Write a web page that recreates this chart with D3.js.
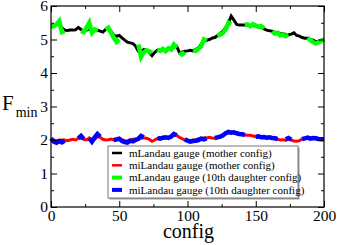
<!DOCTYPE html>
<html>
<head>
<meta charset="utf-8">
<script src="https://cdn.jsdelivr.net/npm/d3@7"></script>
<style>
  body { margin: 0; background: #fff; }
  svg text { font-family: "Liberation Serif", "Times New Roman", "DejaVu Serif", serif; fill: #000; }
</style>
</head>
<body>
<svg id="chart"></svg>
<script>
// configs sampled every 2
const configs = d3.range(0, 201, 2);

const motherLandau = [5.40, 5.42, 5.45, 5.48, 5.35, 5.28, 5.27, 5.28, 5.28, 5.29,
  5.36, 5.30, 5.22, 5.28, 5.32, 5.27, 5.28, 5.28, 5.25, 5.22,
  5.30, 5.33, 5.25, 5.12, 5.10, 5.12, 5.05, 4.98, 4.92, 4.90,
  4.88, 4.80, 4.65, 4.65, 4.70, 4.68, 4.62, 4.52, 4.62, 4.68,
  4.70, 4.68, 4.70, 4.72, 4.70, 4.78, 4.80, 4.62, 4.62, 4.65,
  4.66, 4.68, 4.66, 4.70, 4.75, 4.85, 4.95, 4.98, 5.00, 5.04,
  5.06, 5.12, 5.18, 5.25, 5.35, 5.50, 5.70, 5.58, 5.45, 5.43,
  5.43, 5.43, 5.43, 5.42, 5.42, 5.40, 5.38, 5.36, 5.32, 5.28,
  5.26, 5.25, 5.22, 5.20, 5.18, 5.17, 5.15, 5.14, 5.16, 5.20,
  5.12, 5.10, 5.06, 5.04, 5.04, 5.00, 4.98, 4.94, 4.94, 4.98, 5.00];

const motherILandau = [2.02, 2.00, 1.98, 1.99, 2.00, 2.00, 1.98, 2.00, 2.02, 2.00,
  2.05, 2.08, 2.02, 2.00, 2.06, 1.98, 2.02, 2.10, 2.08, 2.02,
  2.00, 2.01, 2.03, 2.00, 2.00, 2.02, 2.01, 1.98, 1.97, 2.00,
  2.02, 2.03, 2.01, 2.06, 2.06, 2.05, 2.02, 1.96, 2.00, 2.05,
  2.06, 2.05, 2.06, 2.08, 2.12, 2.16, 2.14, 2.08, 2.04, 2.00,
  1.98, 1.98, 2.00, 2.00, 2.03, 2.05, 2.06, 2.06, 2.08, 2.06,
  2.05, 2.08, 2.12, 2.15, 2.20, 2.22, 2.24, 2.22, 2.20, 2.18,
  2.16, 2.15, 2.14, 2.14, 2.12, 2.10, 2.10, 2.09, 2.08, 2.07,
  2.08, 2.06, 2.05, 2.02, 2.00, 2.01, 1.99, 2.04, 2.00, 1.97,
  1.96, 1.98, 2.03, 2.05, 2.06, 2.05, 2.06, 2.04, 2.03, 2.03, 2.02];

// daughter runs: first config of the run, then values every 2 configs
const daughterLandau = [
  [0, [5.38, 5.40, 5.45, 5.55, 5.22, 5.25]],
  [22, [5.25, 5.22, 5.35, 5.50, 5.20, 5.30, 5.25]],
  [40, [5.30, 5.35, 5.20, 5.05, 4.93, 5.00]],
  [64, [4.85, 4.48, 4.62, 4.68, 4.65, 4.60]],
  [78, [4.70, 4.66, 4.72, 4.65, 4.74, 4.70, 4.85, 4.75]],
  [94, [4.60, 4.55, 4.62]],
  [104, [4.68, 4.66, 4.72, 4.80, 5.00, 4.95]],
  [122, [5.10, 5.15, 5.20, 5.30, 5.50, 5.45]],
  [142, [5.45, 5.45, 5.40, 5.46, 5.42, 5.38, 5.40, 5.33]],
  [162, [5.24, 5.18, 5.20, 5.12, 5.15, 5.10, 5.14]],
  [188, [5.05, 4.98, 4.92, 4.88, 4.92, 4.95, 5.00]]
];

const daughterILandau = [
  [0, [2.05, 1.95, 1.92, 1.97, 1.93, 1.98]],
  [20, [2.05, 2.12, 2.03]],
  [28, [2.05, 1.95, 2.08, 2.18, 2.10]],
  [46, [2.00, 2.02, 2.04, 1.97, 1.94, 1.92, 1.98, 1.96, 2.00, 2.04, 2.12, 2.08]],
  [78, [2.06, 2.04, 2.07, 2.08, 2.06, 2.10, 2.18, 2.14]],
  [98, [2.02, 1.98, 1.95, 1.97, 1.98, 2.00, 2.04, 2.02, 2.05]],
  [120, [2.06, 2.08, 2.10, 2.14, 2.20, 2.24, 2.22, 2.23, 2.20, 2.18, 2.17, 2.15]],
  [150, [2.10, 2.11, 2.08, 2.09, 2.07, 2.08, 2.06, 2.05, 2.03]],
  [172, [2.02, 2.06, 2.01]],
  [184, [2.03, 2.05, 2.07, 2.04, 2.06, 2.05, 2.03, 2.02, 2.02]]
];

const legendLabels = ["mLandau gauge (mother config)", "miLandau gauge (mother config)",
  "mLandau gauge (10th daughter config)", "miLandau gauge (10th daughter config)"];
const xTicks = [0, 50, 100, 150, 200];
const yTicks = [0, 1, 2, 3, 4, 5, 6];

const W = 337, H = 245;
const margin = {left: 51, right: 13, top: 6, bottom: 38};
const width = W - margin.left - margin.right;
const height = H - margin.top - margin.bottom;
const serif = "Liberation Serif, Times New Roman, serif";

const svg = d3.select("#chart").attr("width", W).attr("height", H);
const g = svg.append("g").attr("transform", `translate(${margin.left},${margin.top})`);

const x = d3.scaleLinear().domain([0, 200]).range([0, width]);
const y = d3.scaleLinear().domain([0, 6]).range([height, 0]);

function runsToPoints(runs) {
  // turn runs into points with a break between runs
  let pts = [];
  runs.forEach(([start, vals]) => {
    vals.forEach((v, i) => pts.push({c: start + 2 * i, v: v}));
    pts.push({c: null, v: null});
  });
  return pts;
}

const line = d3.line()
  .defined(d => d.v != null)
  .x(d => x(d.c))
  .y(d => y(d.v));

const series = [
  {pts: configs.map((c, i) => ({c: c, v: motherLandau[i]})), color: "#000000", w: 3},
  {pts: configs.map((c, i) => ({c: c, v: motherILandau[i]})), color: "#ff0000", w: 3},
  {pts: runsToPoints(daughterLandau), color: "#00ff00", w: 4.5},
  {pts: runsToPoints(daughterILandau), color: "#0000ff", w: 4.5}
];

g.selectAll(".series")
  .data(series)
  .join("path")
  .attr("class", "series")
  .attr("d", d => line(d.pts))
  .attr("fill", "none")
  .attr("stroke", d => d.color)
  .attr("stroke-width", d => d.w);

// axes with inward ticks on all four sides
const xMinor = d3.range(25, 200, 50);
const yMinor = d3.range(0.5, 6, 1);

function tickAxis(axisGen, tr) {
  const a = g.append("g").attr("transform", tr).call(axisGen);
  a.attr("font-family", serif).attr("font-size", 15.5);
  a.select(".domain").remove();
  a.selectAll("line").attr("stroke", "#000").attr("stroke-width", 1);
  return a;
}

tickAxis(d3.axisBottom(x).tickValues(xTicks).tickSizeInner(-6).tickSizeOuter(0).tickPadding(3).tickFormat(d3.format("d")), `translate(0,${height})`);
tickAxis(d3.axisBottom(x).tickValues(xMinor).tickSizeInner(-3).tickSizeOuter(0).tickFormat(""), `translate(0,${height})`);
tickAxis(d3.axisTop(x).tickValues(xTicks).tickSizeInner(-6).tickSizeOuter(0).tickFormat(""), "translate(0,0)");
tickAxis(d3.axisTop(x).tickValues(xMinor).tickSizeInner(-3).tickSizeOuter(0).tickFormat(""), "translate(0,0)");

tickAxis(d3.axisLeft(y).tickValues(yTicks).tickSizeInner(-6).tickSizeOuter(0).tickPadding(3).tickFormat(d3.format("d")), "translate(0,0)");
tickAxis(d3.axisLeft(y).tickValues(yMinor).tickSizeInner(-3).tickSizeOuter(0).tickFormat(""), "translate(0,0)");
tickAxis(d3.axisRight(y).tickValues(yTicks).tickSizeInner(-6).tickSizeOuter(0).tickFormat(""), `translate(${width},0)`);
tickAxis(d3.axisRight(y).tickValues(yMinor).tickSizeInner(-3).tickSizeOuter(0).tickFormat(""), `translate(${width},0)`);

g.append("rect")
  .attr("width", width).attr("height", height)
  .attr("fill", "none").attr("stroke", "#000").attr("stroke-width", 1.2);

// axis titles
svg.append("text")
  .attr("x", margin.left + width / 2 + 1).attr("y", 238)
  .attr("text-anchor", "middle").attr("font-size", 20)
  .text("config");

const fl = svg.append("text").attr("x", 2).attr("y", 110).attr("font-size", 21);
fl.append("tspan").text("F");
fl.append("tspan").attr("dy", 7).attr("dx", 2).attr("font-size", 14).text("min");

// legend
const leg = svg.append("g").attr("transform", "translate(108,146)");
leg.append("rect").attr("x", 1.5).attr("y", 1.5).attr("width", 190).attr("height", 52).attr("fill", "#999");
leg.append("rect").attr("width", 190).attr("height", 52).attr("fill", "#fff").attr("stroke", "#777").attr("stroke-width", 1);

const items = leg.selectAll(".item")
  .data(series)
  .join("g")
  .attr("class", "item")
  .attr("transform", (d, i) => `translate(0,${7 + i * 12.3})`);
items.append("line")
  .attr("x1", 4).attr("x2", 14)
  .attr("stroke", d => d.color).attr("stroke-width", d => d.w - 0.5);
items.append("text")
  .attr("x", 21).attr("y", 3.8)
  .attr("font-size", 11)
  .text((d, i) => legendLabels[i]);
</script>
</body>
</html>
